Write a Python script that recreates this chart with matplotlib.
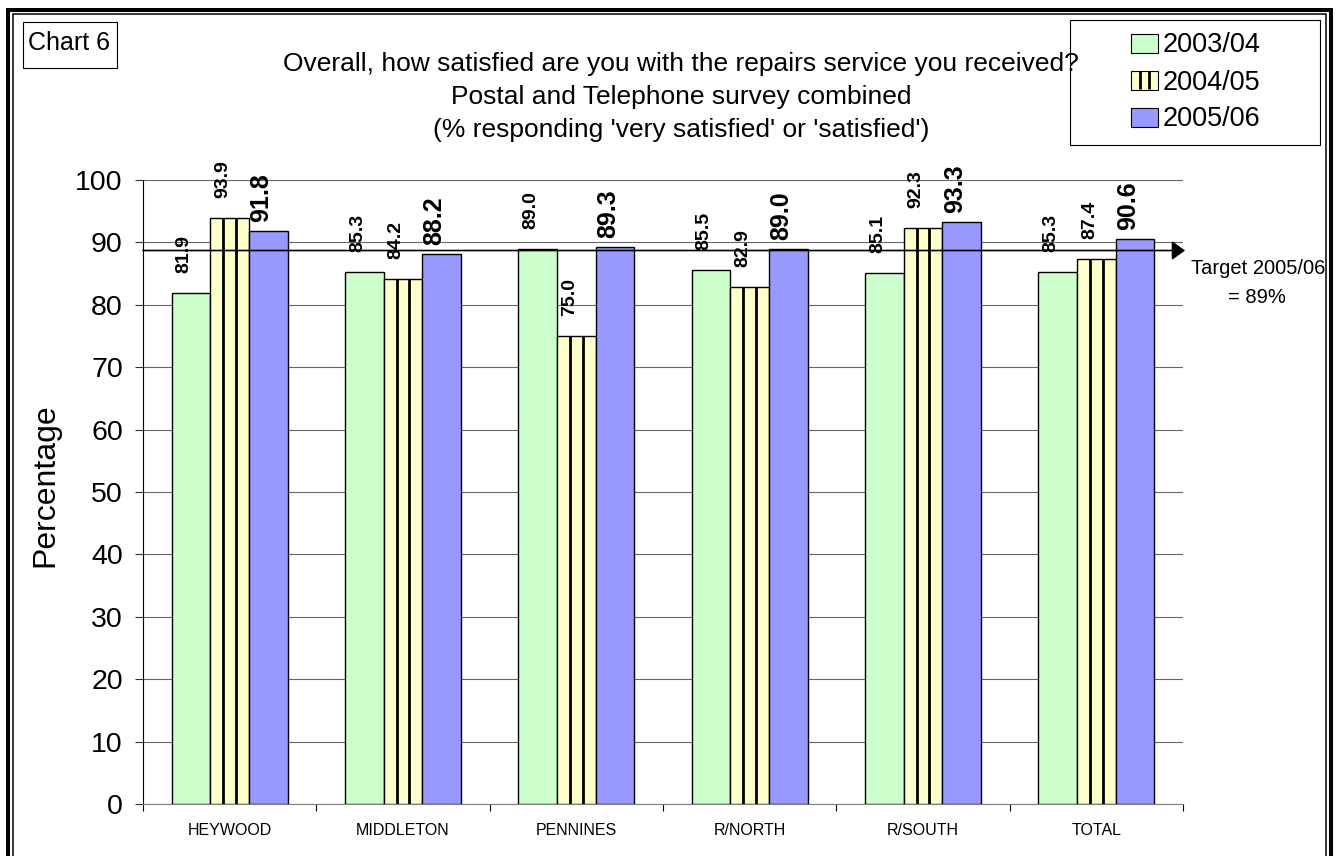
import matplotlib
matplotlib.use("Agg")
import matplotlib.pyplot as plt
from matplotlib.patches import Rectangle
import numpy as np

plt.rcParams['font.family'] = ['Liberation Sans', 'DejaVu Sans']

# data
categories = ["HEYWOOD", "MIDDLETON", "PENNINES", "R/NORTH", "R/SOUTH", "TOTAL"]
years = ["2003/04", "2004/05", "2005/06"]
sat_2003 = [81.9, 85.3, 89.0, 85.5, 85.1, 85.3]
sat_2004 = [93.9, 84.2, 75.0, 82.9, 92.3, 87.4]
sat_2005 = [91.8, 88.2, 89.3, 89.0, 93.3, 90.6]
target = 88.7
target_text = ["Target 2005/06", "= 89%"]
title_lines = ["Overall, how satisfied are you with the repairs service you received?",
               "Postal and Telephone survey combined",
               "(% responding 'very satisfied' or 'satisfied')"]

colors = ['#CCFFCC', '#FFFFCC', '#9999FF']

W, H = 1343, 856
fig = plt.figure(figsize=(W / 100, H / 100), dpi=100)


def fx(px):
    return px / W


def fy(py):
    return 1 - py / H


ax = fig.add_axes([fx(143), fy(804), 1040 / W, 624 / H])

x = np.arange(len(categories))
w = 0.223
series = [sat_2003, sat_2004, sat_2005]
for i, vals in enumerate(series):
    xs = x + (i - 1) * w
    ax.bar(xs, vals, w, color=colors[i], edgecolor='black', linewidth=1.0, zorder=3)
    if i == 1:
        # thick vertical stripes inside the yellow bars
        for k in (1, 2):
            ax.vlines(xs - w / 2 + k * w / 3, 0, vals, color='black', lw=2, zorder=4)
    size = 18 if i == 2 else 14
    off = 6.5 if i == 2 else 14.4
    for xi, v in zip(xs, vals):
        ax.annotate("%.1f" % v, (xi, v), xytext=(-5, off), textcoords='offset points',
                    rotation=90, ha='center', va='bottom', fontsize=size, fontweight='bold')

ax.set_xlim(-0.5, 5.5)
ax.set_ylim(0, 100)
ax.set_yticks(range(0, 101, 10))
ax.yaxis.grid(True, color='#666666', lw=0.8)
ax.set_axisbelow(True)

ax.set_xticks(np.arange(-0.5, 6, 1))
ax.set_xticklabels([])
ax.set_xticks(x, minor=True)
ax.set_xticklabels(categories, minor=True, fontsize=11.5)
ax.tick_params(axis='x', which='minor', length=0, pad=14)
ax.tick_params(axis='x', which='major', length=5, direction='out', color='black')
ax.tick_params(axis='y', length=6, pad=8.5, labelsize=20.5, color='#333333')

ax.spines['top'].set_visible(False)
ax.spines['right'].set_visible(False)
ax.spines['bottom'].set_color('#808080')
ax.spines['left'].set_color('black')

ax.set_ylabel("Percentage", fontsize=23)
ax.yaxis.set_label_coords((60 - 143) / 1040, (804 - 485) / 624)

# target arrow
ax.annotate('', xy=(1.002, target), xytext=(0, target),
            xycoords=('axes fraction', 'data'), textcoords=('axes fraction', 'data'),
            arrowprops=dict(arrowstyle='-|>,head_length=0.4,head_width=0.29', color='black',
                            lw=1.2, mutation_scale=20, shrinkA=0, shrinkB=0),
            annotation_clip=False, zorder=5)
fig.text(fx(1258), fy(274), target_text[0], ha='center', va='baseline', fontsize=14.5)
fig.text(fx(1257), fy(303), target_text[1], ha='center', va='baseline', fontsize=14.5)

# title
for line, base in zip(title_lines, [71, 104, 137]):
    fig.text(fx(681), fy(base), line, ha='center', va='baseline', fontsize=19)

# "Chart 6" box
fig.add_artist(Rectangle((fx(23), fy(68)), 94 / W, 46 / H, transform=fig.transFigure,
                         fill=False, edgecolor='black', lw=0.8))
fig.text(fx(68.5), fy(50), "Chart 6", ha='center', va='baseline', fontsize=18)

# legend drawn by hand to match the boxed Excel legend
fig.add_artist(Rectangle((fx(1070), fy(145)), 250 / W, 125 / H, transform=fig.transFigure,
                         fill=False, edgecolor='black', lw=0.8))
for i, (lab, col) in enumerate(zip(years, colors)):
    cy = 43 + 37 * i
    fig.add_artist(Rectangle((fx(1131), fy(cy + 9.5)), 27 / W, 19 / H, transform=fig.transFigure,
                             facecolor=col, edgecolor='black', lw=0.8))
    if i == 1:
        for k in (1, 2):
            fig.add_artist(plt.Line2D([fx(1131 + 9 * k)] * 2, [fy(cy + 9), fy(cy - 9)],
                                      transform=fig.transFigure, color='black', lw=2,
                                      solid_capstyle='butt'))
    fig.text(fx(1163), fy(cy + 9.5), lab, ha='left', va='baseline', fontsize=19.5)

# double border round the chart
fig.add_artist(Rectangle((fx(8), fy(870)), 1322.5 / W, 860 / H, transform=fig.transFigure,
                         fill=False, edgecolor='black', lw=2.9))
fig.add_artist(Rectangle((fx(12.5), fy(870)), 1313 / W, 856 / H, transform=fig.transFigure,
                         fill=False, edgecolor='black', lw=1.1))

fig.savefig("out.png", dpi=100)
